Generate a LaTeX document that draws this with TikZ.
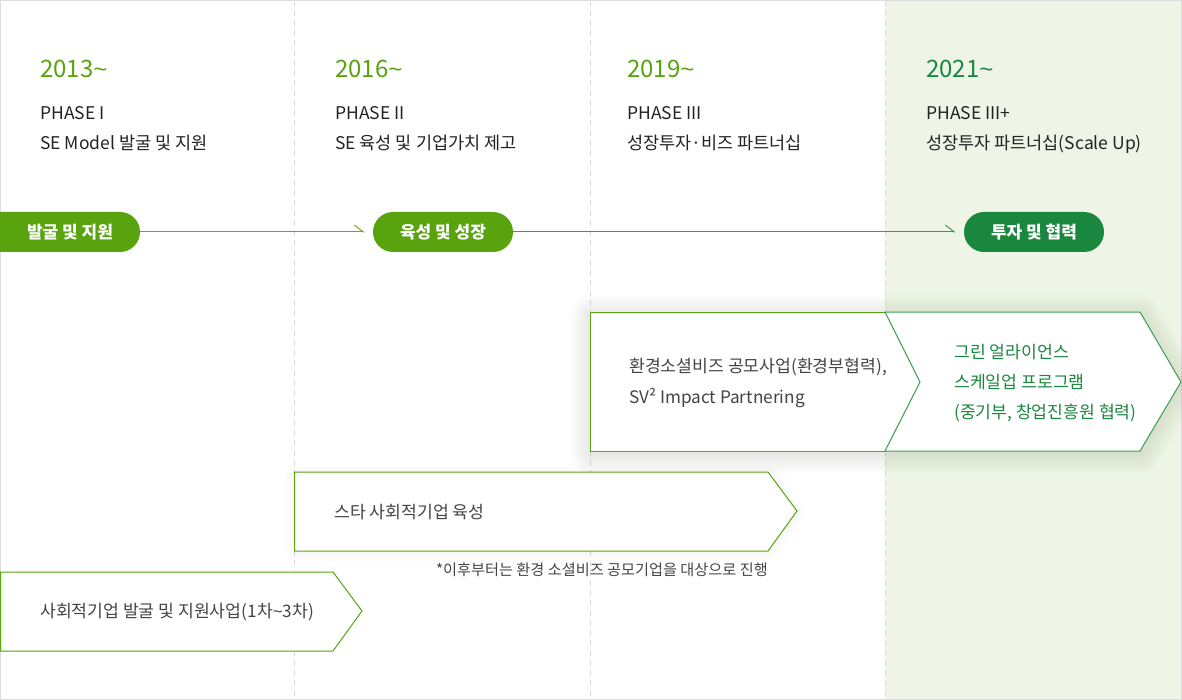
\documentclass[tikz,border=0pt]{standalone}
\usepackage{fontspec}
\setmainfont{Noto Sans CJK KR}
\newfontfamily\tildefont{Liberation Sans}
\newcommand{\tl}{{\tildefont\textasciitilde}}
\usetikzlibrary{shapes.misc,arrows.meta}
\definecolor{lime}{HTML}{58A30E}
\definecolor{dkgreen}{HTML}{1A873F}
\definecolor{boxgreen}{HTML}{3A9E4E}
\definecolor{olive}{HTML}{7AA30A}
\definecolor{bggreen}{HTML}{EEF5E6}
\definecolor{gridgray}{HTML}{DDDDDD}
\definecolor{txt}{HTML}{222222}
\definecolor{boxtxt}{HTML}{444444}
\definecolor{shadowcol}{HTML}{405030}
\begin{document}
\begin{tikzpicture}[x=1pt,y=-1pt,
  year/.style={anchor=base west,font=\fontsize{24}{28}\selectfont,inner sep=0},
  phase/.style={anchor=base west,font=\fontsize{17.5}{21}\selectfont,text=txt,inner sep=0},
  pilltext/.style={text=white,font=\fontsize{17}{20}\selectfont\bfseries,inner sep=0},
  pill/.style={rounded rectangle,minimum width=140pt,minimum height=40pt,pilltext},
  flowline/.style={line width=1pt,-{Straight Barb[left,length=9pt,width=14pt,line width=1pt]}},
  chev/.style={fill=white,line width=1pt},
  boxtext/.style={anchor=base west,font=\fontsize{17.2}{21}\selectfont,text=boxtxt,inner sep=0},
  greentext/.style={anchor=base west,font=\fontsize{17.2}{21}\selectfont,text=dkgreen,inner sep=0},
  divider/.style={gridgray,line width=1pt,dash pattern=on 6pt off 4pt},
  softshadow/.style={shadowcol,line join=round,draw opacity=#1},
]
\useasboundingbox (0,0) rectangle (1182,700);
\clip (0,0) rectangle (1182,700);
% background of last column
\fill[bggreen] (885,0) rectangle (1182,700);
% dividers
\draw[divider] (294,0) -- (294,700);
\draw[divider] (590,0) -- (590,700);
\draw[divider] (885,0) -- (885,700);
% outer frame
\draw[gridgray,line width=1pt] (0.5,0.5) rectangle (1181.5,699.5);

% headers
\node[year,text=lime] (y1) at (40,78) {2013\tl};
\node[phase] (p1a) at (40,120) {PHASE I};
\node[phase] (p1b) at (40,150) {SE Model 발굴 및 지원};
\node[year,text=lime] (y2) at (335,78) {2016\tl};
\node[phase] (p2a) at (335,120) {PHASE II};
\node[phase] (p2b) at (335,150) {SE 육성 및 기업가치 제고};
\node[year,text=lime] (y3) at (627,78) {2019\tl};
\node[phase] (p3a) at (627,120) {PHASE III};
\node[phase] (p3b) at (627,150) {성장투자·비즈 파트너십};
\node[year,text=dkgreen] (y4) at (926,78) {2021\tl};
\node[phase] (p4a) at (926,120) {PHASE III+};
\node[phase] (p4b) at (926,150) {성장투자 파트너십(Scale Up)};

% pills
\node[pill,fill=lime,rounded rectangle left arc=none,minimum width=160pt] (s1) at (60,232) {};
\node[pilltext] (s1t) at (70,232) {발굴 및 지원};
\node[pill,fill=lime] (s2) at (443,232) {육성 및 성장};
\node[pill,fill=dkgreen] (s3) at (1034,232) {투자 및 협력};
\draw[flowline,olive] (s1.east) -- ([xshift=-8pt]s2.west);
\draw[flowline,boxgreen] (s2.east) -- ([xshift=-8pt]s3.west);

% soft shadows
\foreach \w in {4,8,...,40} {
  \draw[softshadow=0.012,line width=\w pt]
    (590,315) -- (1140,315) -- (1181,385) -- (1140,454) -- (590,454) -- cycle;
}
\foreach \w in {4,8,...,20} {
  \draw[softshadow=0.008,line width=\w pt]
    (294.5,474) -- (768,474) -- (797,513) -- (768,553) -- (294.5,553) -- cycle;
}

% box A and B (phase III / III+)
\fill[white] (590,312) -- (1140,312) -- (1181,382) -- (1140,451) -- (590,451) -- cycle;
\draw[lime,line width=1pt] (885,312) -- (590.5,312) -- (590.5,451) -- (885,451);
\draw[boxgreen,line width=1pt] (885,312) -- (1140,312) -- (1181,382) -- (1140,451) -- (885,451) -- (920,382) -- cycle;
\node[boxtext] (a1) at (629,372) {환경소셜비즈 공모사업(환경부협력),};
\node[boxtext] (a2) at (629,403) {SV² Impact Partnering};
\node[greentext] (b1) at (954,358) {그린 얼라이언스};
\node[greentext] (b2) at (954,388) {스케일업 프로그램};
\node[greentext] (b3) at (954,418) {(중기부, 창업진흥원 협력)};

% box C
\draw[chev,draw=lime] (294.5,472) -- (768,472) -- (797,511) -- (768,551) -- (294.5,551) -- cycle;
\node[boxtext] (c1) at (334,518) {스타 사회적기업 육성};
\node[anchor=base east,font=\fontsize{15.2}{18}\selectfont,text=boxtxt,inner sep=0] (fn) at (768,575) {*이후부터는 환경 소셜비즈 공모기업을 대상으로 진행};

% box D
\draw[chev,draw=lime] (0.5,572) -- (333,572) -- (362,611) -- (333,651) -- (0.5,651) -- cycle;
\node[boxtext] (d1) at (40,617) {사회적기업 발굴 및 지원사업(1차\tl 3차)};
\end{tikzpicture}
\end{document}
